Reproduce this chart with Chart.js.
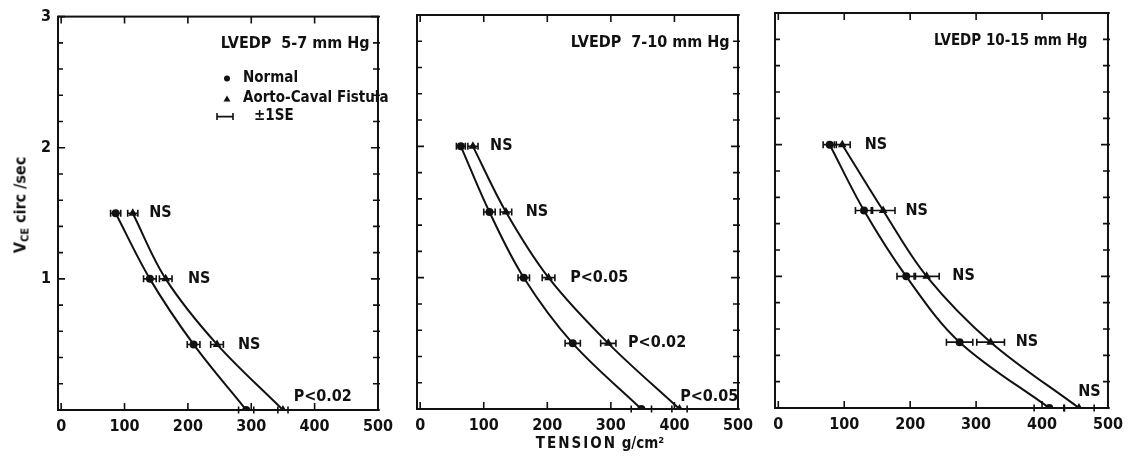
<!DOCTYPE html>
<html>
<head>
<meta charset="utf-8">
<script src="https://cdn.jsdelivr.net/npm/chart.js@4.4.0/dist/chart.umd.min.js"></script>
<style>
  body { margin: 0; background: #fff; width: 1130px; height: 460px; position: relative; overflow: hidden;
         font-family: 'DejaVu Sans Condensed', 'DejaVu Sans', sans-serif; color: #111; }
  canvas { position: absolute; top: 0; }
  #ytitle { position: absolute; left: 21px; top: 205px; transform: translate(-50%, -50%) rotate(-90deg);
            font-size: 16px; font-weight: bold; white-space: nowrap; }
  #ytitle sub { font-size: 11px; vertical-align: -3px; }
  #xtitle { position: absolute; left: 600px; top: 443px; transform: translate(-50%, -50%);
            font-size: 15px; font-weight: bold; white-space: nowrap; }
  #xtitle .t { letter-spacing: 2px; }
</style>
</head>
<body>
<canvas id="p1" width="400" height="460" style="left:0px;width:400px;height:460px"></canvas>
<canvas id="p2" width="360" height="460" style="left:400px;width:360px;height:460px"></canvas>
<canvas id="p3" width="370" height="460" style="left:760px;width:370px;height:460px"></canvas>
<div id="ytitle">V<sub>CE</sub> circ /sec</div>
<div id="xtitle"><span class="t">TENSION</span> g/cm²</div>
<script>
// axis ticks
const tensionTicks = [0, 100, 200, 300, 400, 500];
const vceTicks = [0, 0.2, 0.4, 0.6, 0.8, 1, 1.2, 1.4, 1.6, 1.8, 2, 2.2, 2.4, 2.6, 2.8, 3];

// LVEDP 5-7 mm Hg
const vce1 = [1.5, 1, 0.5, 0];
const normal1 = [86, 140, 209, 292];
const normalSE1 = [8, 10, 10, 12];
const fistula1 = [113, 165, 246, 350];
const fistulaSE1 = [8, 10, 10, 8];
const notes1 = [['NS', 139, 1.5], ['NS', 200, 1.0], ['NS', 279, 0.5], ['P<0.02', 367, 0.1]];

// LVEDP 7-10 mm Hg
const vce2 = [2, 1.5, 1, 0.5, 0];
const normal2 = [64, 109, 163, 240, 348];
const normalSE2 = [7, 9, 9, 12, 16];
const fistula2 = [83, 135, 202, 296, 408];
const fistulaSE2 = [8, 9, 10, 12, 12];
const notes2 = [['NS', 110, 2], ['NS', 166, 1.5], ['P<0.05', 236, 1], ['P<0.02', 327, 0.5], ['P<0.05', 409, 0.09]];

// LVEDP 10-15 mm Hg
const vce3 = [2, 1.5, 1, 0.5, 0];
const normal3 = [78, 130, 194, 275, 411];
const normalSE3 = [10, 13, 14, 20, 23];
const fistula3 = [97, 159, 225, 322, 456];
const fistulaSE3 = [12, 18, 19, 21, 23];
const notes3 = [['NS', 131, 2], ['NS', 193, 1.5], ['NS', 264, 1], ['NS', 360, 0.5], ['NS', 455, 0.12]];

const INK = '#111';
const FONT = "'DejaVu Sans Condensed', 'DejaVu Sans', sans-serif";

function errorBar(ctx, x1, x2, y) {
  ctx.beginPath();
  ctx.moveTo(x1, y); ctx.lineTo(x2, y);
  ctx.moveTo(x1, y - 3.5); ctx.lineTo(x1, y + 3.5);
  ctx.moveTo(x2, y - 3.5); ctx.lineTo(x2, y + 3.5);
  ctx.stroke();
}

const framePlugin = {
  id: 'frame',
  afterDatasetsDraw(chart) {
    const ctx = chart.ctx, xs = chart.scales.x, ys = chart.scales.y;
    ctx.save();
    ctx.strokeStyle = INK;
    ctx.lineWidth = 1.6;
    chart.data.datasets.forEach(ds => {
      ds.data.forEach((p, i) => {
        const y = ys.getPixelForValue(p.y);
        errorBar(ctx, xs.getPixelForValue(p.x - ds.se[i]), xs.getPixelForValue(p.x + ds.se[i]), y);
      });
    });
    ctx.restore();
  },
  afterDraw(chart) {
    const ctx = chart.ctx, a = chart.chartArea, xs = chart.scales.x, ys = chart.scales.y;
    const opt = chart.options.plugins.frame;
    ctx.save();
    ctx.strokeStyle = INK;
    ctx.lineWidth = 2;
    ctx.strokeRect(a.left, a.top, a.right - a.left, a.bottom - a.top);
    ctx.lineWidth = 1.6;
    ctx.beginPath();
    vceTicks.forEach(v => {
      const y = ys.getPixelForValue(v);
      const len = Number.isInteger(v) ? 7 : 5;
      ctx.moveTo(a.left, y); ctx.lineTo(a.left + len, y);
      ctx.moveTo(a.right + 2, y); ctx.lineTo(a.right - len, y);
    });
    tensionTicks.forEach(v => {
      const x = xs.getPixelForValue(v);
      ctx.moveTo(x, a.top); ctx.lineTo(x, a.top + 7);
      ctx.moveTo(x, a.bottom); ctx.lineTo(x, a.bottom - 7);
    });
    ctx.stroke();

    ctx.fillStyle = INK;
    ctx.textBaseline = 'middle';
    ctx.textAlign = 'left';
    ctx.font = 'bold 16px ' + FONT;
    opt.notes.forEach(([t, x, y]) => ctx.fillText(t, xs.getPixelForValue(x), ys.getPixelForValue(y)));

    ctx.font = 'bold ' + opt.titleSize + 'px ' + FONT;
    ctx.fillText(opt.title[0], xs.getPixelForValue(opt.title[1]), ys.getPixelForValue(opt.title[2]));

    if (opt.legend) {
      const lx = a.left + 169, ly = a.top + 62;
      ctx.font = 'bold 15px ' + FONT;
      ctx.beginPath(); ctx.arc(lx, ly, 3, 0, Math.PI * 2); ctx.fill();
      ctx.fillText('Normal', lx + 16, ly);
      ctx.beginPath();
      ctx.moveTo(lx, ly + 17); ctx.lineTo(lx + 3.5, ly + 23); ctx.lineTo(lx - 3.5, ly + 23);
      ctx.closePath(); ctx.fill();
      ctx.fillText('Aorto-Caval Fistula', lx + 16, ly + 20);
      ctx.lineWidth = 1.6;
      errorBar(ctx, lx - 10, lx + 6, ly + 38);
      ctx.fillText('±1SE', lx + 27, ly + 38);
    }
    ctx.restore();
  }
};

function series(xv, yv) {
  return yv.map((y, i) => ({ x: xv[i], y: y }));
}

function makePanel(id, p) {
  const common = { borderColor: INK, backgroundColor: INK, borderWidth: 2, tension: 0.35,
                   pointRadius: 3, pointHoverRadius: 3, fill: false };
  new Chart(document.getElementById(id), {
    type: 'line',
    data: {
      datasets: [
        { ...common, label: 'Normal', data: series(p.normal, p.vce), se: p.normalSE, pointStyle: 'circle' },
        { ...common, label: 'Aorto-Caval Fistula', data: series(p.fistula, p.vce), se: p.fistulaSE, pointStyle: 'triangle' }
      ]
    },
    options: {
      responsive: false,
      animation: false,
      layout: { padding: { top: p.top, right: p.right, left: 0, bottom: 0 } },
      plugins: {
        legend: { display: false },
        tooltip: { enabled: false },
        frame: { notes: p.notes, title: p.title, titleSize: p.titleSize, legend: p.legend }
      },
      scales: {
        x: {
          type: 'linear', min: -5, max: 500,
          afterBuildTicks: s => { s.ticks = tensionTicks.map(v => ({ value: v })); },
          afterFit: s => { s.height = p.xh; },
          grid: { display: false, drawTicks: false },
          border: { display: false },
          ticks: { padding: 7, color: INK, font: { family: FONT, size: 16, weight: 'bold' }, maxRotation: 0 }
        },
        y: {
          type: 'linear', min: 0, max: 3,
          afterBuildTicks: s => { s.ticks = vceTicks.map(v => ({ value: v })); },
          afterFit: s => { s.width = p.yw; },
          grid: { display: false, drawTicks: false },
          border: { display: false },
          ticks: {
            display: p.showY, autoSkip: false, padding: 7, color: INK,
            font: { family: FONT, size: 16, weight: 'bold' },
            callback: v => (Number.isInteger(v) && v > 0) ? String(v) : ''
          }
        }
      }
    },
    plugins: [framePlugin]
  });
}

makePanel('p1', { vce: vce1, normal: normal1, normalSE: normalSE1, fistula: fistula1, fistulaSE: fistulaSE1,
  notes: notes1, title: ['LVEDP  5-7 mm Hg', 252, 2.79], titleSize: 16, legend: true, showY: true,
  yw: 58, top: 15, right: 8, xh: 50 });
makePanel('p2', { vce: vce2, normal: normal2, normalSE: normalSE2, fistula: fistula2, fistulaSE: fistulaSE2,
  notes: notes2, title: ['LVEDP  7-10 mm Hg', 237, 2.79], titleSize: 16, legend: false, showY: false,
  yw: 17, top: 15, right: 12, xh: 51 });
makePanel('p3', { vce: vce3, normal: normal3, normalSE: normalSE3, fistula: fistula3, fistulaSE: fistulaSE3,
  notes: notes3, title: ['LVEDP 10-15 mm Hg', 236, 2.79], titleSize: 15, legend: false, showY: false,
  yw: 15, top: 13, right: 22, xh: 52 });
</script>
</body>
</html>
